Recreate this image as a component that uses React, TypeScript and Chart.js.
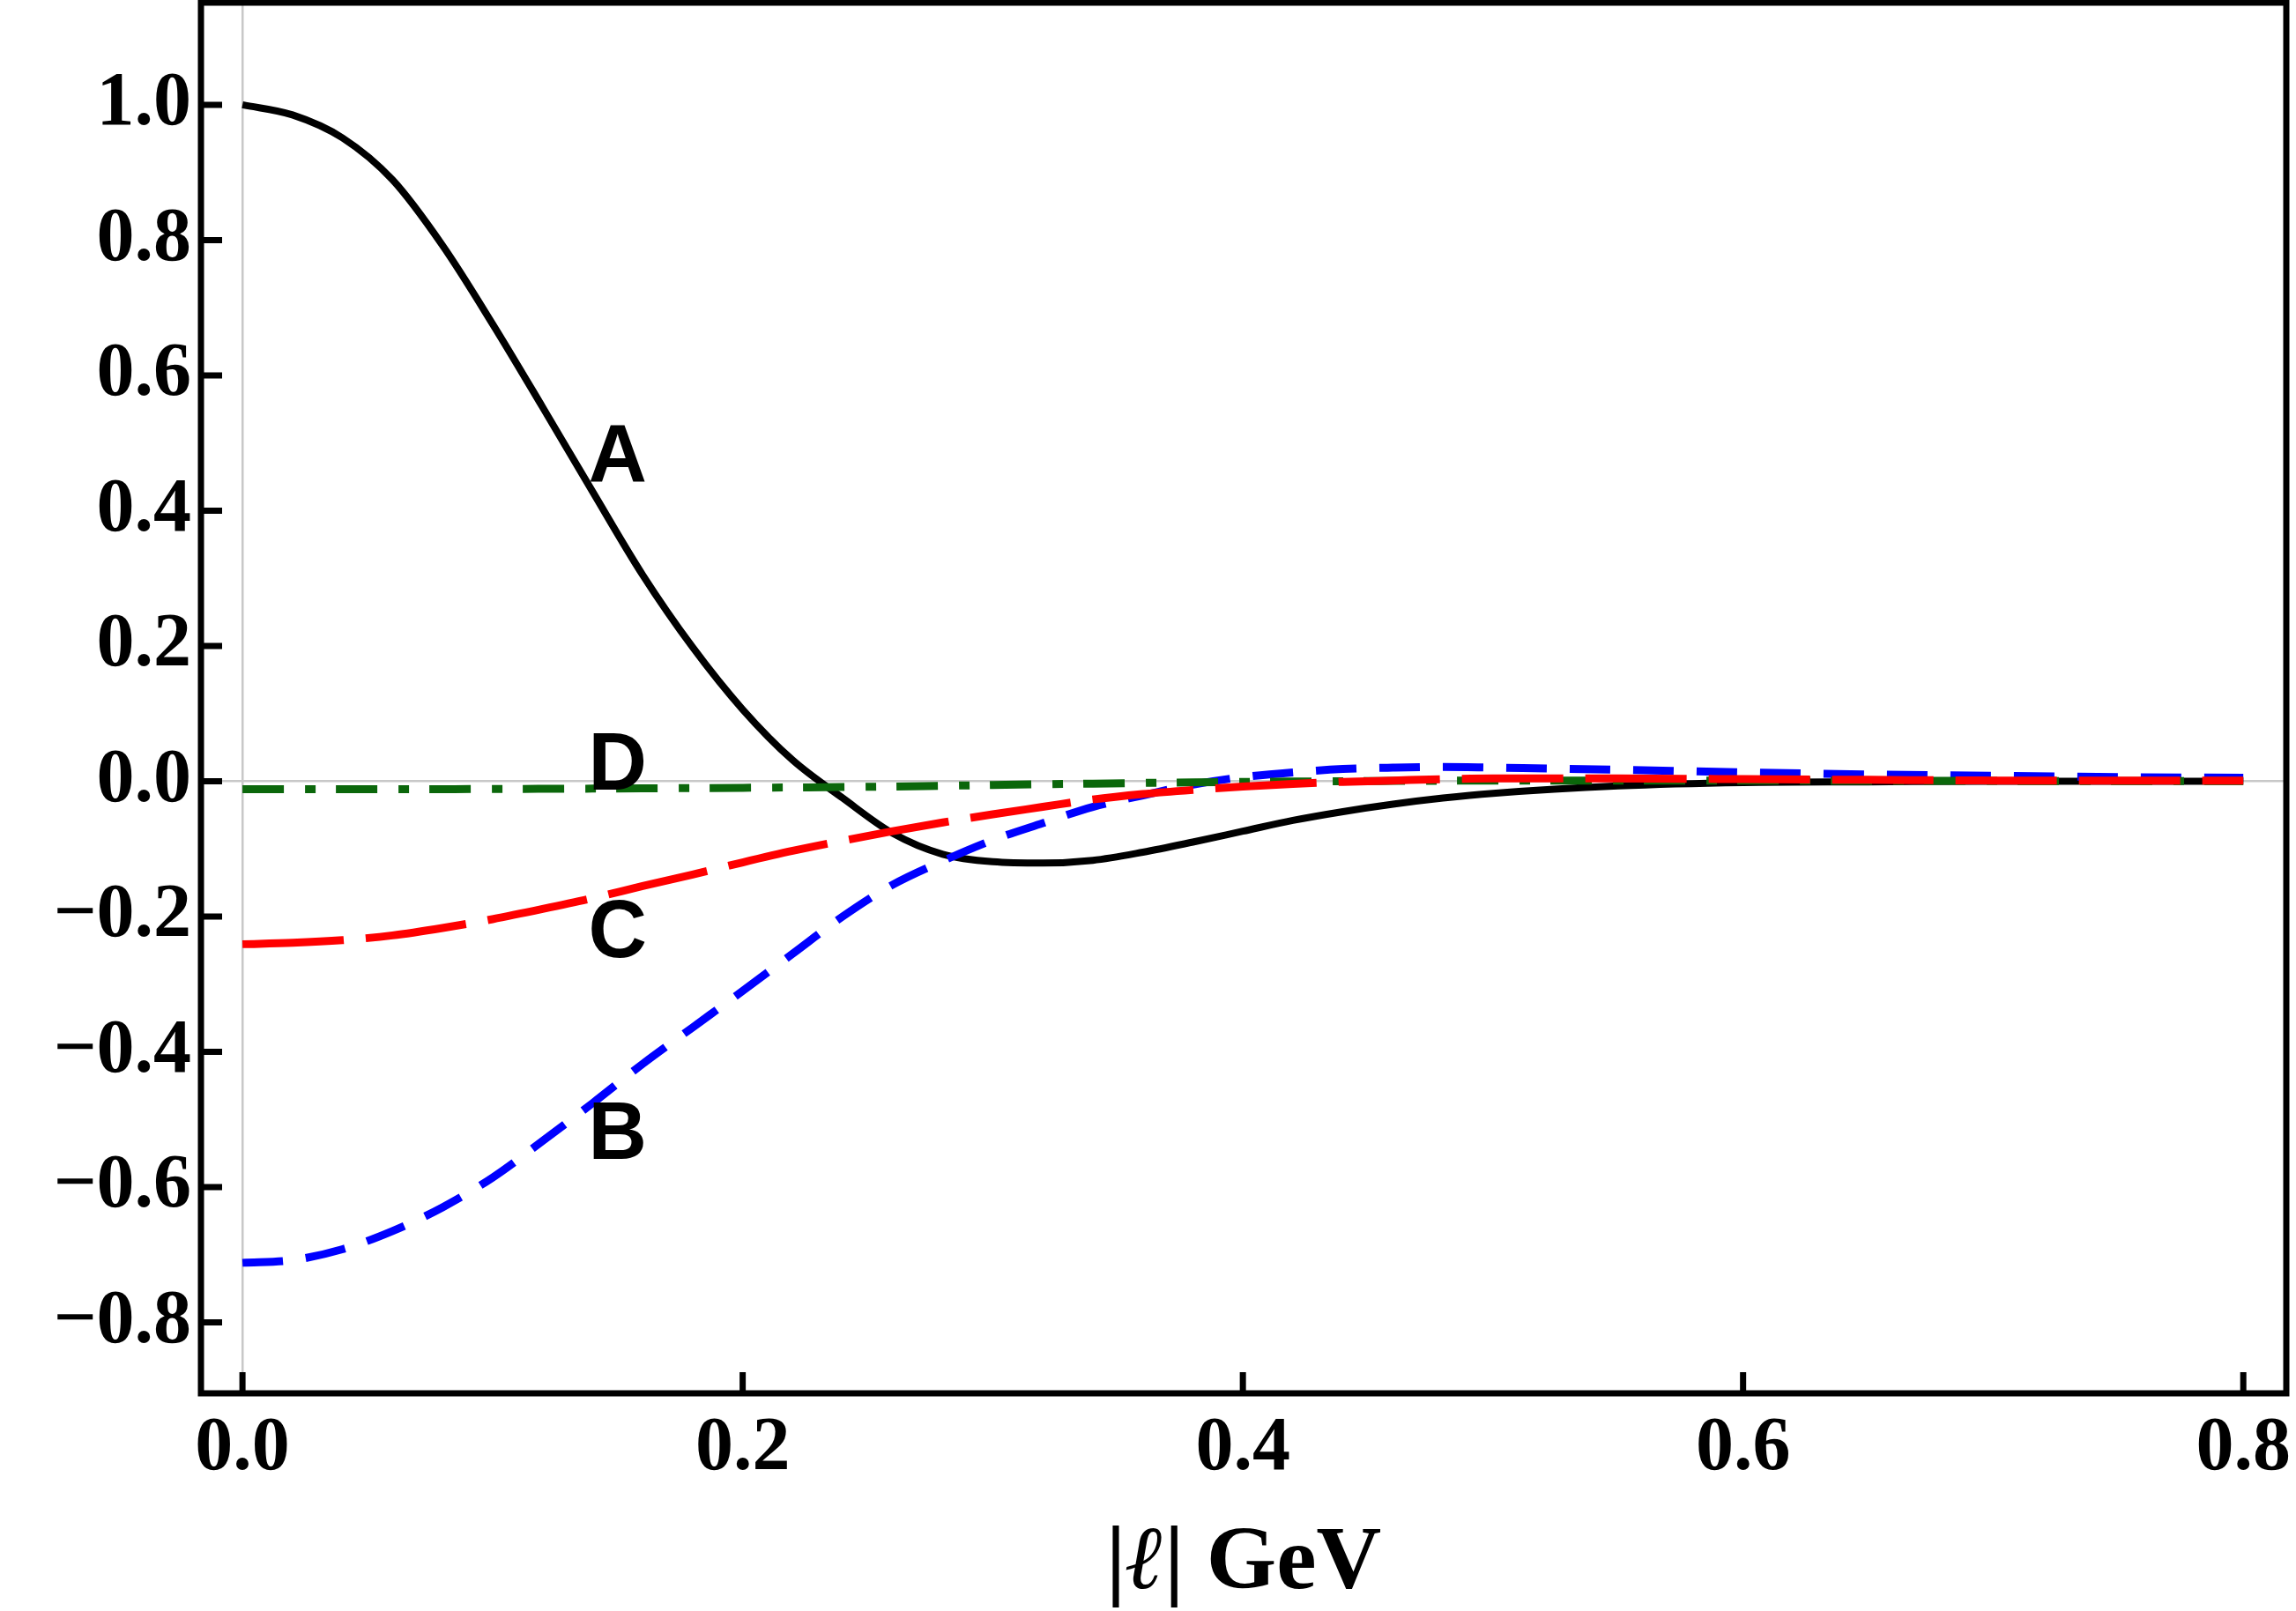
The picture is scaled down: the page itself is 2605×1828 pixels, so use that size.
import React, { useEffect, useRef } from "react";
import { Chart, registerables } from "chart.js";

Chart.register(...registerables);

// momentum grid |ℓ| in GeV
const xs = [
  0, 0.02, 0.04, 0.06, 0.08, 0.1, 0.12, 0.14, 0.16, 0.18, 0.2, 0.22, 0.24, 0.26,
  0.28, 0.3, 0.32, 0.34, 0.36, 0.38, 0.4, 0.42, 0.44, 0.46, 0.48, 0.5, 0.55,
  0.6, 0.65, 0.7, 0.75, 0.8,
];

const seriesA = [
  1.0, 0.985, 0.951, 0.889, 0.792, 0.676, 0.553, 0.428, 0.305, 0.198, 0.106, 0.031,
  -0.025, -0.077, -0.108, -0.119, -0.121, -0.117, -0.105, -0.09, -0.074, -0.058,
  -0.045, -0.034, -0.025, -0.018, -0.007, -0.002, -0.001, 0, 0, 0,
];

const seriesB = [
  -0.712, -0.708, -0.692, -0.665, -0.63, -0.586, -0.532, -0.476, -0.418, -0.364,
  -0.31, -0.255, -0.2, -0.153, -0.118, -0.087, -0.062, -0.038, -0.021, -0.005,
  0.006, 0.013, 0.018, 0.02, 0.021, 0.02, 0.017, 0.013, 0.01, 0.008, 0.006, 0.005,
];

const seriesC = [
  -0.241, -0.239, -0.235, -0.228, -0.217, -0.204, -0.189, -0.173, -0.155, -0.138,
  -0.12, -0.103, -0.088, -0.074, -0.061, -0.049, -0.038, -0.027, -0.019, -0.013,
  -0.008, -0.004, -0.001, 0.001, 0.003, 0.004, 0.004, 0.003, 0.002, 0.001, 0.001,
  0.001,
];

const seriesD = [
  -0.012, -0.012, -0.012, -0.012, -0.0118, -0.0115, -0.0113, -0.011, -0.0106,
  -0.0102, -0.0098, -0.0093, -0.0087, -0.0079, -0.0068, -0.0057, -0.0046,
  -0.0036, -0.0026, -0.0018, -0.0011, -0.0005, 0, 0.0004, 0.0007, 0.0009, 0.001,
  0.0008, 0.0006, 0.0004, 0.0002, 0.0001,
];

// curve names and where they are written (data coordinates)
const curveNames = ["A", "B", "C", "D"];
const nameX = [0.15, 0.15, 0.15, 0.15];
const nameY = [0.476, -0.525, -0.227, 0.02];

const xTicks = [0, 0.2, 0.4, 0.6, 0.8];
const yTicks = [-0.8, -0.6, -0.4, -0.2, 0, 0.2, 0.4, 0.6, 0.8, 1.0];

// x-axis title pieces: the momentum symbol is set in italics
const xTitleParts = [
  { text: "|", italic: false },
  { text: "\u2113", italic: true },
  { text: "| GeV", italic: false },
];

const toPoints = (ys: number[]) => xs.map((x, i) => ({ x, y: ys[i] }));

const fmt = (v: number) => {
  const r = Math.round(v * 10) / 10;
  if (Math.abs(r) < 1e-9) return "0.0";
  return (r < 0 ? "\u2212" : "") + Math.abs(r).toFixed(1);
};

const SERIF = "'Liberation Serif', 'Times New Roman', serif";
const SANS = "'Liberation Sans', Arial, sans-serif";

const framePlugin = {
  id: "frameAndTicks",
  afterDatasetsDraw(chart: any) {
    const { ctx, chartArea } = chart;
    const { left, right, top, bottom } = chartArea;
    const sx = chart.scales.x;
    const sy = chart.scales.y;
    ctx.save();
    ctx.strokeStyle = "#000";
    ctx.lineCap = "butt";
    ctx.lineWidth = 7;
    ctx.beginPath();
    for (const v of yTicks) {
      const py = sy.getPixelForValue(v);
      ctx.moveTo(left, py);
      ctx.lineTo(left + 24, py);
    }
    for (const v of xTicks) {
      const px = sx.getPixelForValue(v);
      ctx.moveTo(px, bottom);
      ctx.lineTo(px, bottom - 24);
    }
    ctx.stroke();
    ctx.strokeRect(left, top, right - left, bottom - top);
    ctx.restore();
  },
};

const namesPlugin = {
  id: "curveNames",
  afterDatasetsDraw(chart: any) {
    const { ctx } = chart;
    const sx = chart.scales.x;
    const sy = chart.scales.y;
    ctx.save();
    ctx.fillStyle = "#000";
    ctx.font = `bold 92px ${SANS}`;
    ctx.textAlign = "center";
    ctx.textBaseline = "middle";
    curveNames.forEach((n, i) => {
      ctx.fillText(n, sx.getPixelForValue(nameX[i]), sy.getPixelForValue(nameY[i]));
    });
    ctx.restore();
  },
};

const xTitlePlugin = {
  id: "xTitle",
  afterDraw(chart: any) {
    const { ctx, chartArea } = chart;
    const fontFor = (italic: boolean) => `${italic ? "italic " : ""}bold 102px ${SERIF}`;
    ctx.save();
    ctx.fillStyle = "#000";
    ctx.textBaseline = "alphabetic";
    ctx.textAlign = "left";
    let total = 0;
    const widths = xTitleParts.map((p) => {
      ctx.font = fontFor(p.italic);
      const w = ctx.measureText(p.text).width;
      total += w;
      return w;
    });
    let x = (chartArea.left + chartArea.right) / 2 - total / 2;
    const y = chart.height - 26;
    xTitleParts.forEach((p, i) => {
      ctx.font = fontFor(p.italic);
      ctx.fillText(p.text, x, y);
      x += widths[i];
    });
    ctx.restore();
  },
};

export default function App() {
  const ref = useRef<HTMLCanvasElement | null>(null);

  useEffect(() => {
    if (!ref.current) return;
    const zeroGrid = (c: any) =>
      Math.abs(c.tick.value) < 1e-9 ? "#c8c8c8" : "rgba(0,0,0,0)";
    const chart = new Chart(ref.current, {
      type: "line",
      data: {
        datasets: [
          {
            label: "C",
            data: toPoints(seriesC),
            borderColor: "#ff0000",
            borderWidth: 9,
            borderDash: [115, 25],
          },
          {
            label: "D",
            data: toPoints(seriesD),
            borderColor: "#0b670b",
            borderWidth: 9,
            borderDash: [47, 24, 12, 23],
          },
          {
            label: "B",
            data: toPoints(seriesB),
            borderColor: "#0000ff",
            borderWidth: 9,
            borderDash: [46, 26],
          },
          {
            label: "A",
            data: toPoints(seriesA),
            borderColor: "#000000",
            borderWidth: 8,
          },
        ],
      },
      options: {
        animation: false,
        responsive: false,
        devicePixelRatio: 1,
        parsing: false,
        layout: { padding: { top: 3, right: 11, left: 0, bottom: 0 } },
        elements: {
          point: { radius: 0, hoverRadius: 0 },
          line: { cubicInterpolationMode: "monotone", fill: false, borderCapStyle: "butt" },
        },
        plugins: {
          legend: { display: false },
          tooltip: { enabled: false },
        },
        scales: {
          x: {
            type: "linear",
            min: -0.0166,
            max: 0.8172,
            afterFit: (s: any) => {
              s.height = 247;
              s.paddingLeft = 0;
              s.paddingRight = 0;
            },
            ticks: {
              stepSize: 0.2,
              includeBounds: false,
              padding: 12,
              color: "#000",
              maxRotation: 0,
              autoSkip: false,
              font: { family: SERIF, weight: "bold", size: 86 },
              callback: (v: any) => fmt(Number(v)),
            },
            grid: { color: zeroGrid, lineWidth: 2.5, drawTicks: false },
            border: { display: false },
          },
          y: {
            type: "linear",
            min: -0.905,
            max: 1.151,
            afterFit: (s: any) => {
              s.width = 228;
              s.paddingTop = 0;
              s.paddingBottom = 0;
            },
            ticks: {
              stepSize: 0.2,
              includeBounds: false,
              padding: 11,
              color: "#000",
              autoSkip: false,
              font: { family: SERIF, weight: "bold", size: 86 },
              callback: (v: any) => fmt(Number(v)),
            },
            grid: { color: zeroGrid, lineWidth: 2.5, drawTicks: false },
            border: { display: false },
          },
        },
      },
      plugins: [framePlugin, namesPlugin, xTitlePlugin],
    } as any);
    return () => chart.destroy();
  }, []);

  return (
    <div
      style={{
        position: "absolute",
        left: 0,
        top: 0,
        width: 2605,
        height: 1828,
        background: "#fff",
      }}
    >
      <canvas ref={ref} width={2605} height={1828} style={{ display: "block" }} />
    </div>
  );
}
